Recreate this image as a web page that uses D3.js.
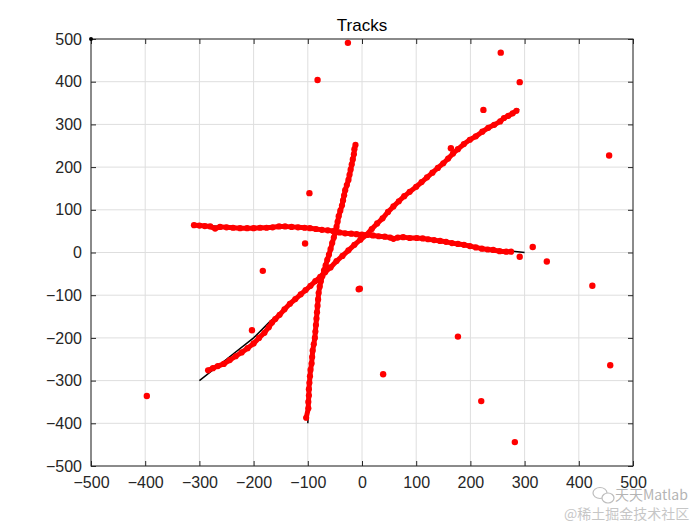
<!DOCTYPE html>
<html>
<head>
<meta charset="utf-8">
<script src="https://cdn.jsdelivr.net/npm/d3@7"></script>
<style>
  body { margin: 0; background: #fff; }
  text { font-family: "Liberation Sans", Arial, sans-serif; }
</style>
</head>
<body>
<svg id="chart" width="700" height="525"></svg>
<script>
// ticks
let xTicks = [-500, -400, -300, -200, -100, 0, 100, 200, 300, 400, 500];
let yTicks = [-500, -400, -300, -200, -100, 0, 100, 200, 300, 400, 500];

// true tracks (black lines)
let truthDiag = [[-300,-300],[-250,-250],[-200,-200],[-170,-162],[-120,-108],[-77,-55],[0,33],[60,110],[100,153],[160,222],[220,283],[290,336]];
let truthHoriz = [[-300,63],[-200,58],[-130,60],[-60,52],[0,42],[60,34],[100,33],[160,24],[220,10],[300,0]];
let truthVert = [[-100,-400],[-97,-320],[-90,-220],[-82,-120],[-74,-57],[-60,0],[-45,60],[-32,130],[-22,190],[-12,255]];
let cornerPoint = [[-500, 500]];

// detections along each track (red)
let detDiag = [[-284,-276],[-275,-271],[-266,-266],[-255,-261],[-244,-252],[-233,-243],[-222,-234],[-211,-224],[-200,-213],
    [-190,-200],[-180,-188],[-172,-175],[-166,-164],[-160,-156],[-152,-146],[-143,-133],[-133,-120],[-123,-109],[-113,-98],
    [-104,-88],[-95,-78],[-86,-67],[-77,-57],[-68,-46],[-58,-35],[-47,-20],[-36,-8],[-25,5],[-14,18],[-3,30],[8,41],
    [18,55],[28,68],[38,80],[48,95],[58,108],[68,120],[78,132],[88,142],[100,154],[110,165],[120,176],[130,187],
    [140,198],[150,209],[159,220],[168,232],[177,242],[188,254],[199,264],[210,272],[222,283],[233,292],[244,299],
    [255,307],[262,315],[270,320],[278,326],[285,332]];
let detHoriz = [[-310,64],[-300,63],[-290,62],[-280,61],[-271,56],[-262,60],[-250,59],[-238,58],[-225,57],[-212,57],
    [-200,57],[-188,58],[-176,58],[-165,59],[-153,61],[-142,61],[-130,60],[-118,59],[-106,58],[-96,57],[-85,55],
    [-74,53],[-63,52],[-53,50],[-42,47],[-31,45],[-20,44],[-10,43],[0,42],[9,41],[20,40],[31,38],[42,37],[52,35],
    [58,32],[66,35],[76,36],[88,34],[101,34],[112,33],[122,31],[133,29],[144,27],[155,25],[166,22],[177,20],
    [188,18],[199,15],[210,12],[221,9],[232,7],[242,6],[254,3],[266,2],[275,2]];
let detVert = [[-103,-387],[-99,-365],[-99,-350],[-98,-335],[-98,-320],[-97,-305],[-96,-290],[-95,-275],[-93,-260],
    [-92,-245],[-91,-230],[-89,-215],[-87,-200],[-86,-185],[-85,-170],[-84,-155],[-83,-140],[-82,-125],[-81,-110],
    [-80,-95],[-78,-80],[-76,-68],[-73,-55],[-70,-42],[-67,-30],[-64,-17],[-61,-5],[-58,8],[-55,22],[-52,35],
    [-49,48],[-47,60],[-45,72],[-43,85],[-40,98],[-37,110],[-35,122],[-33,134],[-31,146],[-28,158],[-25,170],
    [-23,182],[-21,194],[-19,206],[-17,218],[-15,230],[-14,242],[-12,252]];

// clutter / false alarms
let clutter = [[-26,491],[-82,404],[-97,139],[-105,21],[-183,-43],[-203,-182],[-397,-336],[-4,-85],[-6,-86],
    [256,468],[291,399],[224,334],[456,227],[164,244],[315,13],[341,-21],[291,-10],[425,-78],[458,-264],
    [177,-197],[39,-285],[220,-348],[282,-444]];

let svg = d3.select("#chart");
let margin = {left: 91, right: 67, top: 39, bottom: 59};
let width = 700 - margin.left - margin.right;
let height = 525 - margin.top - margin.bottom;

let xScale = d3.scaleLinear().domain([-500, 500]).range([margin.left, margin.left + width]);
let yScale = d3.scaleLinear().domain([-500, 500]).range([margin.top + height, margin.top]);

let axisColor = "#262626";

// grid
svg.append("g").selectAll("line")
    .data(xTicks)
    .enter()
    .append("line")
    .attr("x1", d => xScale(d)).attr("x2", d => xScale(d))
    .attr("y1", margin.top).attr("y2", margin.top + height)
    .attr("stroke", "#dedede").attr("stroke-width", 1);
svg.append("g").selectAll("line")
    .data(yTicks)
    .enter()
    .append("line")
    .attr("y1", d => yScale(d)).attr("y2", d => yScale(d))
    .attr("x1", margin.left).attr("x2", margin.left + width)
    .attr("stroke", "#dedede").attr("stroke-width", 1);

// axes (ticks inward, box on)
function styleAxis(g) {
    g.select(".domain").remove();
    g.selectAll("line").attr("stroke", axisColor);
    g.selectAll("text").style("font-size", "16px").attr("fill", axisColor);
}
svg.append("g")
    .attr("transform", "translate(0," + (margin.top + height) + ")")
    .call(d3.axisBottom(xScale).tickValues(xTicks).tickSizeInner(-5).tickPadding(11))
    .call(styleAxis);
svg.append("g")
    .attr("transform", "translate(0," + margin.top + ")")
    .call(d3.axisTop(xScale).tickValues(xTicks).tickSizeInner(-5).tickFormat(""))
    .call(styleAxis);
svg.append("g")
    .attr("transform", "translate(" + margin.left + ",0)")
    .call(d3.axisLeft(yScale).tickValues(yTicks).tickSizeInner(-5).tickPadding(9))
    .call(styleAxis);
svg.append("g")
    .attr("transform", "translate(" + (margin.left + width) + ",0)")
    .call(d3.axisRight(yScale).tickValues(yTicks).tickSizeInner(-5).tickFormat(""))
    .call(styleAxis);

svg.append("rect")
    .attr("x", margin.left).attr("y", margin.top)
    .attr("width", width).attr("height", height)
    .attr("fill", "none").attr("stroke", axisColor).attr("stroke-width", 1);

let line = d3.line().x(d => xScale(d[0])).y(d => yScale(d[1]));

// true tracks
[truthDiag, truthHoriz, truthVert].forEach(function(track) {
    svg.append("path")
        .datum(track)
        .attr("d", line)
        .attr("fill", "none")
        .attr("stroke", "#000")
        .attr("stroke-width", 1.5);
});
svg.selectAll(".corner")
    .data(cornerPoint)
    .enter()
    .append("circle")
    .attr("cx", d => xScale(d[0])).attr("cy", d => yScale(d[1]))
    .attr("r", 2).attr("fill", "#000");

// detections: dense dots that merge into a band
[detDiag, detHoriz, detVert].forEach(function(track) {
    svg.append("path")
        .datum(track)
        .attr("d", line)
        .attr("fill", "none")
        .attr("stroke", "#ff0000")
        .attr("stroke-width", 5)
        .attr("stroke-linecap", "round")
        .attr("stroke-linejoin", "round");
    svg.append("g").selectAll("circle")
        .data(track)
        .enter()
        .append("circle")
        .attr("cx", d => xScale(d[0])).attr("cy", d => yScale(d[1]))
        .attr("r", 3.1).attr("fill", "#ff0000");
});

svg.append("g").selectAll("circle")
    .data(clutter)
    .enter()
    .append("circle")
    .attr("cx", d => xScale(d[0])).attr("cy", d => yScale(d[1]))
    .attr("r", 3.2).attr("fill", "#ff0000");

// title
svg.append("text")
    .attr("x", margin.left + width / 2)
    .attr("y", 31)
    .attr("text-anchor", "middle")
    .style("font-size", "17px")
    .attr("fill", "#000")
    .text("Tracks");

// watermark
let wm = svg.append("g").attr("opacity", 0.55);
wm.append("ellipse").attr("cx", 600).attr("cy", 493).attr("rx", 7).attr("ry", 5.5)
    .attr("fill", "none").attr("stroke", "#888").attr("stroke-width", 1.2);
wm.append("ellipse").attr("cx", 608).attr("cy", 498).attr("rx", 6).attr("ry", 5)
    .attr("fill", "#fff").attr("stroke", "#888").attr("stroke-width", 1.2);
wm.append("text").attr("x", 615).attr("y", 500)
    .style("font-size", "14px").style("font-family", "'Noto Sans CJK SC', sans-serif")
    .attr("fill", "#777").text("天天Matlab");
wm.append("text").attr("x", 564).attr("y", 519)
    .style("font-size", "14px").style("font-family", "'Noto Sans CJK SC', sans-serif")
    .attr("fill", "#999").text("@稀土掘金技术社区");
</script>
</body>
</html>
